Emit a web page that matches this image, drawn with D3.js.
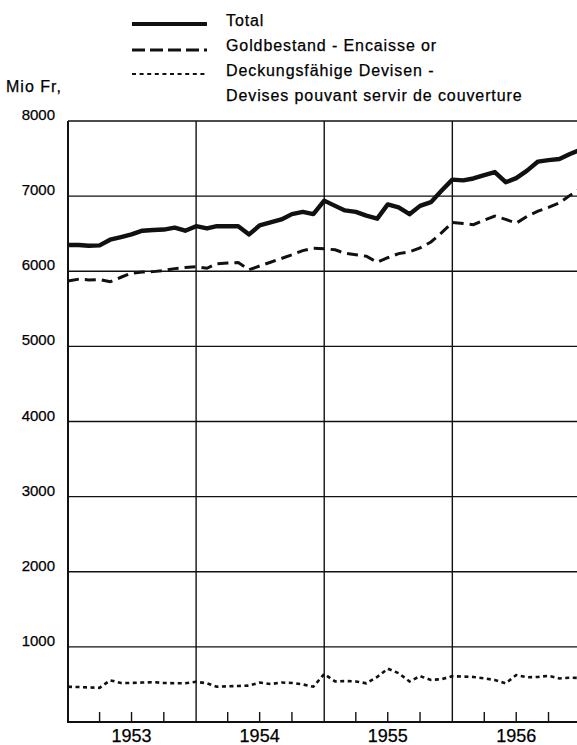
<!DOCTYPE html>
<html>
<head>
<meta charset="utf-8">
<script src="https://cdn.jsdelivr.net/npm/d3@7"></script>
<style>
  html, body { margin: 0; padding: 0; background: #fff; }
  svg { display: block; font-family: "Liberation Sans", Arial, Helvetica, sans-serif; }
  text { fill: #000; stroke: #000; stroke-width: 0.25px; }
</style>
</head>
<body>
<svg id="chart" width="577" height="745"></svg>
<script>
// ---- data (month-end values, Dec 1952 .. Dec 1956), Mio Fr.
const years = ["1953", "1954", "1955", "1956"];
const yTicks = [1000, 2000, 3000, 4000, 5000, 6000, 7000, 8000];
const totalValues = [6350, 6350, 6340, 6345, 6420, 6455, 6490, 6540, 6550, 6555, 6580, 6540,
  6600, 6570, 6600, 6600, 6600, 6490, 6610, 6650, 6690, 6760, 6790, 6760,
  6940, 6870, 6810, 6790, 6740, 6700, 6890, 6850, 6760, 6870, 6920, 7070,
  7220, 7210, 7235, 7280, 7320, 7185, 7240, 7340, 7460, 7480, 7495, 7560, 7620];
const goldValues = [5870, 5895, 5885, 5890, 5860, 5920, 5975, 5990, 5995, 6010, 6035, 6050,
  6060, 6040, 6100, 6110, 6115, 6020, 6070, 6120, 6170, 6220, 6275, 6305,
  6300, 6285, 6240, 6220, 6200, 6120, 6180, 6235, 6260, 6310, 6390, 6510,
  6650, 6635, 6620, 6680, 6735, 6690, 6640, 6730, 6800, 6850, 6910, 7010, 7100];
const devisenValues = [470, 465, 460, 455, 555, 520, 520, 525, 530, 520, 515, 515,
  535, 515, 470, 475, 480, 485, 525, 505, 525, 520, 500, 470,
  640, 540, 545, 540, 515, 600, 710, 650, 540, 610, 560, 570,
  610, 605, 600, 580, 560, 515, 625, 595, 600, 615, 580, 590, 585];
const legendLabels = ["Total", "Goldbestand - Encaisse or", "Deckungsfähige Devisen -", "Devises pouvant servir de couverture"];
const yUnit = "Mio Fr,";

(function () {
// month-end dates (first day of following month)
const dates = d3.timeMonth.range(new Date(1953, 0, 1), new Date(1957, 0, 2));

const svg = d3.select("#chart");
const pLeft = 68, pTop = 121, pBottom = 722;
const x = d3.scaleTime().domain([new Date(1953, 0, 1), new Date(1957, 0, 1)]).range([pLeft, pLeft + 4 * 128.2]);
const y = d3.scaleLinear().domain([0, 8000]).range([pBottom, pTop]);

// horizontal grid
svg.append("g").selectAll("line").data(yTicks).join("line")
  .attr("x1", pLeft).attr("x2", 577)
  .attr("y1", d => y(d)).attr("y2", d => y(d))
  .attr("stroke", "#111").attr("stroke-width", 1.4);

// vertical year grid
const yearStarts = [1954, 1955, 1956].map(yr => new Date(yr, 0, 1));
svg.append("g").selectAll("line").data(yearStarts).join("line")
  .attr("x1", d => x(d)).attr("x2", d => x(d))
  .attr("y1", pTop).attr("y2", pBottom)
  .attr("stroke", "#111").attr("stroke-width", 1.4);

// quarter ticks along bottom
const quarterTicks = d3.timeMonth.every(3).range(new Date(1953, 0, 1), new Date(1957, 0, 1))
  .filter(d => d.getMonth() !== 0);
svg.append("g").selectAll("line").data(quarterTicks).join("line")
  .attr("x1", d => x(d)).attr("x2", d => x(d))
  .attr("y1", pBottom - 10).attr("y2", pBottom)
  .attr("stroke", "#111").attr("stroke-width", 1.4);

// axes lines
svg.append("line").attr("x1", pLeft).attr("x2", pLeft).attr("y1", pTop).attr("y2", pBottom + 1)
  .attr("stroke", "#111").attr("stroke-width", 2);
svg.append("line").attr("x1", pLeft).attr("x2", 577).attr("y1", pBottom).attr("y2", pBottom)
  .attr("stroke", "#111").attr("stroke-width", 2.2);

// y labels
svg.append("g").selectAll("text").data(yTicks).join("text")
  .attr("x", 55).attr("y", d => y(d) - 1)
  .attr("text-anchor", "end")
  .attr("font-size", 15)
  .text(d => d);

svg.append("text").attr("x", 6).attr("y", 92).attr("font-size", 16).attr("letter-spacing", 1).text(yUnit);

// year labels
svg.append("g").selectAll("text").data(years).join("text")
  .attr("x", d => x(new Date(+d, 6, 1)))
  .attr("y", 742)
  .attr("text-anchor", "middle")
  .attr("font-size", 18)
  .text(d => d);

// lines
const line = d3.line().x((d, i) => x(dates[i])).y(d => y(d));
svg.append("path").datum(goldValues).attr("d", line)
  .attr("fill", "none").attr("stroke", "#111").attr("stroke-width", 3)
  .attr("stroke-dasharray", "11,6");
svg.append("path").datum(devisenValues).attr("d", line)
  .attr("fill", "none").attr("stroke", "#111").attr("stroke-width", 2.6)
  .attr("stroke-dasharray", "4,3.5");
svg.append("path").datum(totalValues).attr("d", line)
  .attr("fill", "none").attr("stroke", "#111").attr("stroke-width", 4.4)
  .attr("stroke-linejoin", "round");

// legend
const lg = svg.append("g");
const lx1 = 132, lx2 = 207, tx = 226;
lg.append("line").attr("x1", lx1).attr("x2", lx2).attr("y1", 24).attr("y2", 24)
  .attr("stroke", "#111").attr("stroke-width", 4);
lg.append("line").attr("x1", lx1).attr("x2", lx2).attr("y1", 50).attr("y2", 50)
  .attr("stroke", "#111").attr("stroke-width", 3).attr("stroke-dasharray", "13,5");
lg.append("line").attr("x1", lx1).attr("x2", lx2).attr("y1", 74).attr("y2", 74)
  .attr("stroke", "#111").attr("stroke-width", 2.2).attr("stroke-dasharray", "4,3.6");
const legendY = [26, 51, 76, 101];
lg.selectAll("text").data(legendLabels).join("text")
  .attr("x", tx).attr("y", (d, i) => legendY[i])
  .attr("font-size", 16).attr("letter-spacing", 0.9)
  .text(d => d);
})();
</script>
</body>
</html>
